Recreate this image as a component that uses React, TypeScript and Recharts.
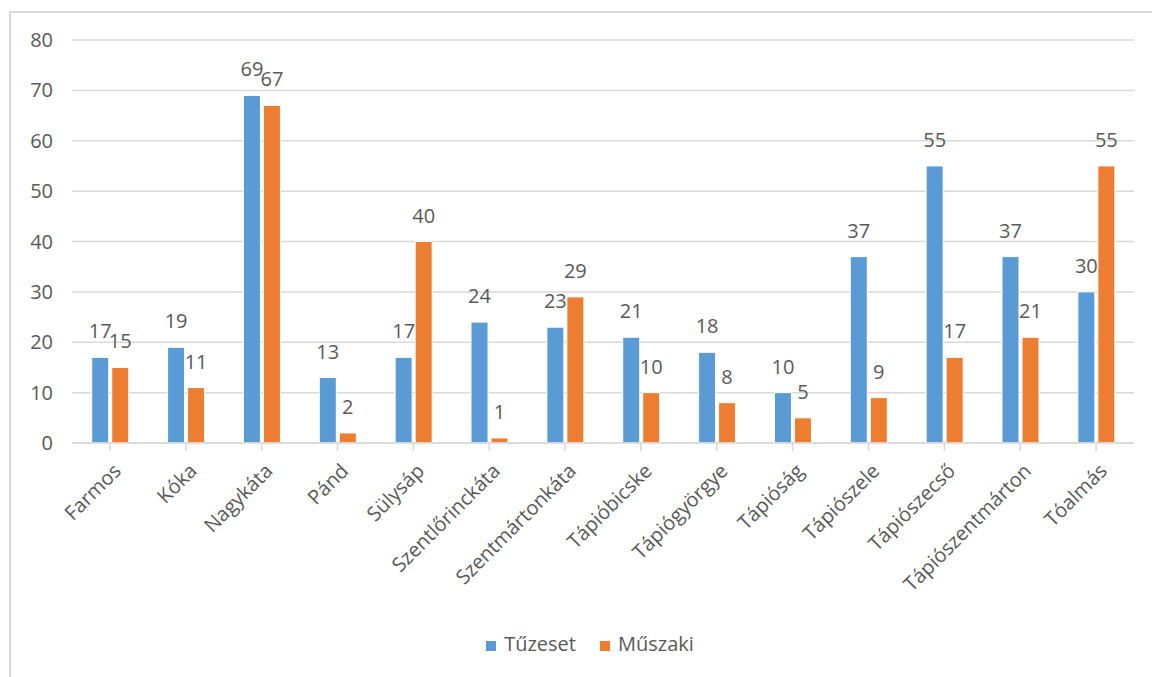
import React from "react";
import { BarChart, Bar, XAxis, YAxis, CartesianGrid, Legend, LabelList } from "recharts";

const categories = [
  "Farmos", "Kóka", "Nagykáta", "Pánd", "Sülysáp", "Szentlőrinckáta", "Szentmártonkáta",
  "Tápióbicske", "Tápiógyörgye", "Tápióság", "Tápiószele", "Tápiószecső", "Tápiószentmárton", "Tóalmás",
];
const tuzeset = [17, 19, 69, 13, 17, 24, 23, 21, 18, 10, 37, 55, 37, 30];
const muszaki = [15, 11, 67, 2, 40, 1, 29, 10, 8, 5, 9, 17, 21, 55];
const yTicks = [0, 10, 20, 30, 40, 50, 60, 70, 80];
const seriesOrder = ["Tűzeset", "Műszaki"];

const data = categories.map((c, i) => ({ name: c, Tűzeset: tuzeset[i], Műszaki: muszaki[i] }));

const FONT = "'Open Sans', 'Noto Sans', sans-serif";
const TEXT = "#595959";
const FS = 20;

const XTick = (props: any) => {
  const { x, y, payload } = props;
  return (
    <g transform={`translate(${x + 8},${y + 15})`}>
      <text
        textAnchor="end"
        transform="rotate(-45)"
        fill={TEXT}
        fontSize={FS}
        fontFamily={FONT}
        dy={6}
      >
        {payload.value}
      </text>
    </g>
  );
};

export default function App() {
  return (
    <div style={{ position: "absolute", left: 0, top: 0, width: 1152, height: 677, overflow: "hidden", background: "#fff" }}>
      <div
        style={{
          position: "absolute",
          left: 9,
          top: 11,
          width: 1200,
          height: 720,
          border: "2px solid #d9d9d9",
          boxSizing: "border-box",
        }}
      />
      <div style={{ position: "absolute", left: 0, top: 0 }}>
        <BarChart
          width={1152}
          height={677}
          data={data}
          margin={{ top: 40, right: 18, bottom: 7, left: 0 }}
          barCategoryGap="26%"
          barGap={3}
        >
          <CartesianGrid vertical={false} stroke="#d9d9d9" strokeWidth={1.5} />
          <XAxis
            dataKey="name"
            interval={0}
            height={187}
            tick={<XTick />}
            axisLine={{ stroke: "#d9d9d9", strokeWidth: 1.5 }}
            tickLine={{ stroke: "#d9d9d9", strokeWidth: 1.5 }}
            tickSize={8}
            scale="band"
          />
          <YAxis
            width={72}
            domain={[0, 80]}
            ticks={yTicks}
            axisLine={false}
            tickLine={false}
            tick={{ fill: TEXT, fontSize: FS, fontFamily: FONT }}
            tickMargin={13}
          />
          <Legend
            verticalAlign="bottom"
            height={40}
            iconType="square"
            iconSize={10}
            itemSorter={(item: any) => seriesOrder.indexOf(item.value)}
            wrapperStyle={{ fontFamily: FONT, fontSize: FS, left: 28 }}
            formatter={(v: string) => (
              <span style={{ color: TEXT, paddingLeft: 4, paddingRight: v === seriesOrder[0] ? 14 : 0 }}>{v}</span>
            )}
          />
          <Bar dataKey="Tűzeset" fill="#5B9BD5" stroke="#fff" strokeWidth={1} isAnimationActive={false}>
            <LabelList dataKey="Tűzeset" position="top" offset={19} fill={TEXT} fontSize={FS} fontFamily={FONT} />
          </Bar>
          <Bar dataKey="Műszaki" fill="#ED7D31" stroke="#fff" strokeWidth={1} isAnimationActive={false}>
            <LabelList dataKey="Műszaki" position="top" offset={19} fill={TEXT} fontSize={FS} fontFamily={FONT} />
          </Bar>
        </BarChart>
      </div>
    </div>
  );
}
